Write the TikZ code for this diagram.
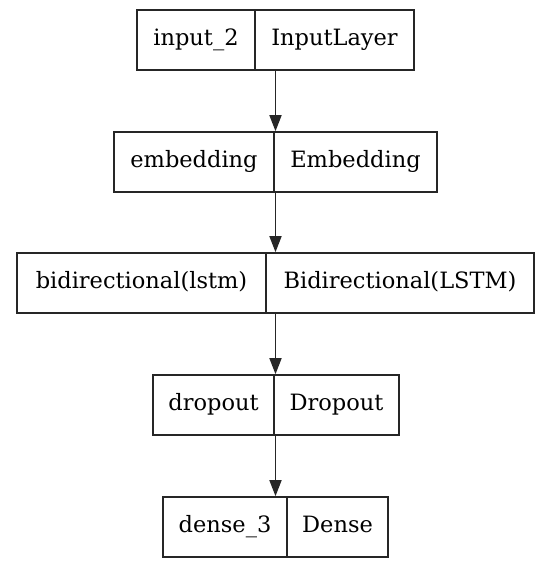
\documentclass[tikz,border=0pt]{standalone}
\usepackage{fontspec}
\setmainfont{DejaVu Serif}
\usetikzlibrary{arrows.meta}
\tikzset{
	layer_cell/.style = {
		rectangle,
		draw=black!85,
		line width=1.6pt,
		inner sep=0pt,
		minimum height=60pt,
		text height=16pt,
		text depth=5pt,
		align=center,
		font=\fontsize{22.5}{26}\selectfont
	},
	layer_flow/.style = {
		line width=1.6pt,
		draw=black!85,
		-{Triangle[length=16pt,width=12pt]}
	},
}
\begin{document}
\begin{tikzpicture}[x=1pt,y=-1pt]
\useasboundingbox (0,0) rectangle (556,570);
\coordinate (mid) at (275.5,0);
% input layer
\node [layer_cell, minimum width=118pt] (input_name) at (196,40) {input\_2};
\node [layer_cell, minimum width=159pt] (input_class) at (334.5,40) {InputLayer};
% embedding
\node [layer_cell, minimum width=160pt] (emb_name) at (194,162) {embedding};
\node [layer_cell, minimum width=163pt] (emb_class) at (355.5,162) {Embedding};
% bidirectional lstm
\node [layer_cell, minimum width=249pt] (bilstm_name) at (141.5,283) {bidirectional(lstm)};
\node [layer_cell, minimum width=268pt] (bilstm_class) at (400,283) {Bidirectional(LSTM)};
% dropout
\node [layer_cell, minimum width=121pt] (drop_name) at (213.5,405) {dropout};
\node [layer_cell, minimum width=125pt] (drop_class) at (336.5,405) {Dropout};
% dense
\node [layer_cell, minimum width=124pt] (dense_name) at (225,527) {dense\_3};
\node [layer_cell, minimum width=101pt] (dense_class) at (337.5,527) {Dense};
% edges
\draw [layer_flow] (input_class.south -| mid) -- (emb_class.north -| mid);
\draw [layer_flow] (emb_class.south -| mid) -- (bilstm_class.north -| mid);
\draw [layer_flow] (bilstm_class.south -| mid) -- (drop_class.north -| mid);
\draw [layer_flow] (drop_class.south -| mid) -- (dense_class.north -| mid);
\end{tikzpicture}
\end{document}
